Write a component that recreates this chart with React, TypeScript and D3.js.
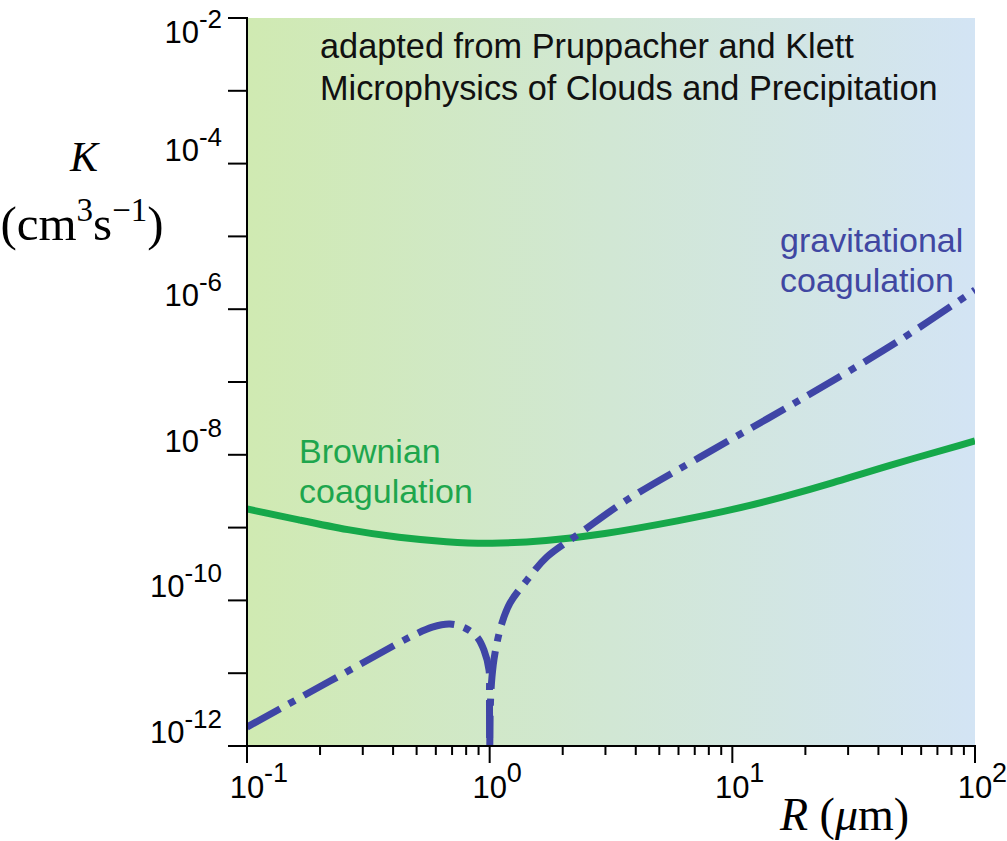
import React from "react";
import * as d3 from "d3";

// Brownian coagulation kernel (cm^3 s^-1) vs R (µm)
const R_BROWN = [0.1, 0.165, 0.258, 0.427, 0.667, 1.0, 1.72, 2.85, 6.26, 10, 16.2, 26, 41.8, 100];
const K_BROWN = [1.8e-9, 1.27e-9, 9.27e-10, 7.2e-10, 6.34e-10, 5.95e-10, 6.55e-10, 7.9e-10, 1.27e-9, 1.75e-9, 2.63e-9, 4.1e-9, 6.8e-9, 1.55e-8];

// Gravitational coagulation kernel, branch below R = 1 µm
const R_GRAV_LEFT = [0.1, 0.22, 0.488, 0.58, 0.686, 0.791, 0.887, 0.947, 0.9936, 0.998, 1.0];
const K_GRAV_LEFT = [1.82e-12, 7.8e-12, 3.35e-11, 4.3e-11, 4.74e-11, 4.18e-11, 3.14e-11, 2.08e-11, 1.11e-11, 4.7e-12, 1e-13];

// Gravitational coagulation kernel, branch above R = 1 µm
const R_GRAV_RIGHT = [1.0, 1.005, 1.022, 1.052, 1.124, 1.213, 1.425, 1.72, 2.355, 3.68, 7.36, 19.0, 49.1, 100];
const K_GRAV_RIGHT = [1e-13, 3e-12, 8.87e-12, 1.89e-11, 4.9e-11, 9.2e-11, 1.9e-10, 3.95e-10, 8.4e-10, 2.4e-9, 9.3e-9, 5.66e-8, 3.78e-7, 1.84e-6];

const X_DOMAIN = [0.1, 100];
const Y_DOMAIN = [1e-12, 1e-2];
const X_MAJOR_EXP = [-1, 0, 1, 2];
const Y_MAJOR_EXP = [-12, -11, -10, -9, -8, -7, -6, -5, -4, -3, -2];
const Y_LABEL_EXP = [-12, -10, -8, -6, -4, -2];

const W = 1007;
const H = 841;
const M = { left: 247, right: 975, top: 18, bottom: 746 };

const GREEN = "#16a84a";
const BLUE = "#3f45a6";
const SANS = "'Liberation Sans', Arial, Helvetica, sans-serif";
const SERIF = "'Liberation Serif', 'Times New Roman', serif";

export default function App() {
  const x = d3.scaleLog().domain(X_DOMAIN).range([M.left, M.right]);
  const y = d3.scaleLog().domain(Y_DOMAIN).range([M.bottom, M.top]);

  const smooth = d3
    .line<[number, number]>()
    .x((d) => x(d[0]))
    .y((d) => y(d[1]))
    .curve(d3.curveBasis);
  const through = d3
    .line<[number, number]>()
    .x((d) => x(d[0]))
    .y((d) => y(d[1]))
    .curve(d3.curveCatmullRom.alpha(0.5));

  const brown = smooth(R_BROWN.map((r, i) => [r, K_BROWN[i]]));
  const gLeft = through(R_GRAV_LEFT.map((r, i) => [r, K_GRAV_LEFT[i]]));
  const gRight = through(R_GRAV_RIGHT.map((r, i) => [r, K_GRAV_RIGHT[i]]));

  const minorX: number[] = [];
  for (let e = -1; e < 2; e++) {
    for (let k = 2; k <= 9; k++) minorX.push(k * Math.pow(10, e));
  }

  return (
    <svg
      width={W}
      height={H}
      style={{ position: "absolute", left: 0, top: 0, background: "#fff" }}
    >
      <defs>
        <linearGradient id="bg" x1="0" x2="1" y1="0" y2="0">
          <stop offset="0%" stopColor="#d0eab2" />
          <stop offset="50%" stopColor="#d1e7d4" />
          <stop offset="100%" stopColor="#d3e4f4" />
        </linearGradient>
        <clipPath id="plot">
          <rect x={M.left} y={M.top} width={M.right - M.left} height={M.bottom - M.top} />
        </clipPath>
      </defs>

      <rect
        x={M.left}
        y={M.top}
        width={M.right - M.left}
        height={M.bottom - M.top}
        fill="url(#bg)"
      />

      {/* annotation */}
      <g fontFamily={SANS} fontSize={34.3} fill="#111">
        <text x={320} y={58}>adapted from Pruppacher and Klett</text>
        <text x={320} y={100}>Microphysics of Clouds and Precipitation</text>
      </g>

      <g clipPath="url(#plot)">
        <path d={brown || ""} fill="none" stroke={GREEN} strokeWidth={7} />
        <path
          d={gLeft || ""}
          fill="none"
          stroke={BLUE}
          strokeWidth={7}
          strokeDasharray="38 10 7 10"
        />
        <path
          d={gRight || ""}
          fill="none"
          stroke={BLUE}
          strokeWidth={7}
          strokeDasharray="38 10 7 10"
        />
      </g>

      {/* series labels */}
      <g fontFamily={SANS} fontSize={34} fill="#1ea64d">
        <text x={299} y={463}>Brownian</text>
        <text x={299} y={503}>coagulation</text>
      </g>
      <g fontFamily={SANS} fontSize={34} fill="#4047a2">
        <text x={780} y={252}>gravitational</text>
        <text x={780} y={292}>coagulation</text>
      </g>

      {/* axes */}
      <line x1={M.left} x2={M.left} y1={M.top - 1} y2={M.bottom + 1} stroke="#000" strokeWidth={2} />
      <line x1={M.left - 1} x2={M.right + 1} y1={M.bottom} y2={M.bottom} stroke="#000" strokeWidth={2} />

      {Y_MAJOR_EXP.map((e) => (
        <line
          key={"yt" + e}
          x1={M.left - 19}
          x2={M.left}
          y1={y(Math.pow(10, e))}
          y2={y(Math.pow(10, e))}
          stroke="#000"
          strokeWidth={2}
        />
      ))}
      {X_MAJOR_EXP.map((e) => (
        <line
          key={"xt" + e}
          x1={x(Math.pow(10, e))}
          x2={x(Math.pow(10, e))}
          y1={M.bottom}
          y2={M.bottom + 17}
          stroke="#000"
          strokeWidth={2}
        />
      ))}
      {minorX.map((v) => (
        <line
          key={"xm" + v}
          x1={x(v)}
          x2={x(v)}
          y1={M.bottom}
          y2={M.bottom + 9}
          stroke="#000"
          strokeWidth={2}
        />
      ))}

      {/* y tick labels */}
      <g fontFamily={SANS} fill="#000">
        {Y_LABEL_EXP.map((e) => {
          const ty = Math.max(y(Math.pow(10, e)) - 3, 43);
          return (
            <text key={"yl" + e} x={222} y={ty} textAnchor="end" fontSize={31}>
              10
              <tspan fontSize={26} dy={-15}>
                {"-" + Math.abs(e)}
              </tspan>
            </text>
          );
        })}
      </g>

      {/* x tick labels */}
      <g fontFamily={SANS} fill="#000">
        {X_MAJOR_EXP.map((e) => (
          <g key={"xl" + e}>
            <text x={x(Math.pow(10, e))} y={798} textAnchor="middle" fontSize={31}>
              10
            </text>
            <text x={x(Math.pow(10, e)) + 17} y={782} fontSize={27}>
              {e < 0 ? "-" + Math.abs(e) : String(e)}
            </text>
          </g>
        ))}
      </g>

      {/* axis titles */}
      <text x={780} y={830} fontFamily={SERIF} fontSize={46}>
        <tspan fontStyle="italic">R</tspan>
        <tspan> (</tspan>
        <tspan fontStyle="italic">μ</tspan>
        <tspan>m)</tspan>
      </text>
      <text x={84} y={171} fontFamily={SERIF} fontSize={42} fontStyle="italic" textAnchor="middle">
        K
      </text>
      <text x={82} y={240} fontFamily={SERIF} fontSize={49} textAnchor="middle">
        (cm
        <tspan fontSize={33} dy={-19}>3</tspan>
        <tspan dy={19}>s</tspan>
        <tspan fontSize={33} dy={-19}>−1</tspan>
        <tspan dy={19}>)</tspan>
      </text>
    </svg>
  );
}
